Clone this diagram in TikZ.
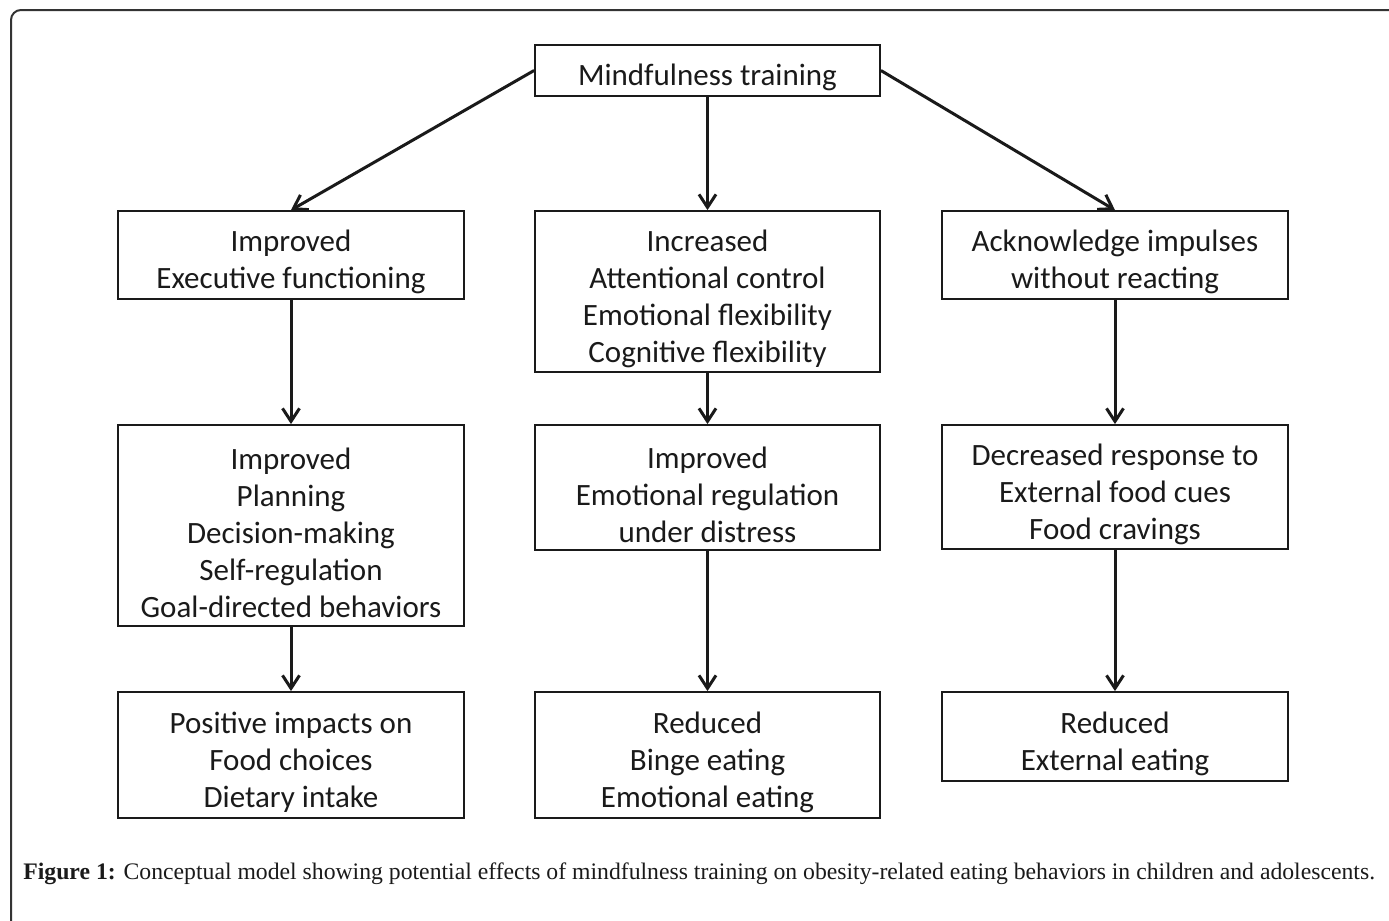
\documentclass[tikz,border=0pt]{standalone}
\usepackage{fontspec}
\setmainfont{Liberation Serif}
\newfontfamily\boxfont{Carlito}
\usetikzlibrary{arrows.meta}
\definecolor{framecol}{HTML}{333333}
\definecolor{inkcol}{HTML}{1A1A1A}
\tikzset{
  fbox/.style={draw=inkcol, line width=0.9pt, inner sep=0pt},
  ftext/.style={align=center, inner sep=0pt,
    font=\boxfont\fontsize{15.5}{18.5}\selectfont, text=inkcol},
  conn/.style={draw=inkcol, line width=1.5pt, -{Straight Barb[length=6.5pt,width=8.5pt,line width=1.5pt]}}
}
\newcommand{\bx}[5]{%
  \node[fbox, minimum width=#3pt, minimum height=#4pt] (#1) at #2 {};
  \node[ftext] (#1-t) at ([yshift=-3.5pt]#1.center) {#5};
}
\begin{document}
\begin{tikzpicture}[x=0.5pt,y=-0.5pt]
\useasboundingbox (0,0) rectangle (1389,921);
% frame
\draw[framecol, line width=1pt, rounded corners=5pt] (11,921) -- (11,10) -- (1389,10);
% nodes
\bx{top}{(707.5,70.5)}{172.5}{25.5}{Mindfulness training}
\bx{L1}{(291,255)}{173}{44}{Improved\\Executive functioning}
\bx{M1}{(707.5,291.5)}{172.5}{80.5}{Increased\\Attentional control\\Emotional flexibility\\Cognitive flexibility}
\bx{R1}{(1115,255)}{173}{44}{Acknowledge impulses\\without reacting}
\bx{L2}{(291,525.5)}{173}{100.5}{Improved\\Planning\\Decision-making\\Self-regulation\\Goal-directed behaviors}
\bx{M2}{(707.5,487.5)}{172.5}{62.5}{Improved\\Emotional regulation\\under distress}
\bx{R2}{(1115,487)}{173}{62}{Decreased response to\\External food cues\\Food cravings}
\bx{L3}{(291,755)}{173}{63}{Positive impacts on\\Food choices\\Dietary intake}
\bx{M3}{(707.5,755)}{172.5}{63}{Reduced\\Binge eating\\Emotional eating}
\bx{R3}{(1115,736.5)}{173}{44.5}{Reduced\\External eating}
% connectors
\draw[conn] (top.west) -- (L1.north);
\draw[conn] (top.south) -- (M1.north);
\draw[conn] (top.east) -- (R1.north);
\draw[conn] (L1.south) -- (L2.north);
\draw[conn] (L2.south) -- (L3.north);
\draw[conn] (M1.south) -- (M2.north);
\draw[conn] (M2.south) -- (M3.north);
\draw[conn] (R1.south) -- (R2.north);
\draw[conn] (R2.south) -- (R3.north);
% caption
\node[anchor=base west, inner sep=0pt, font=\fontsize{11.85}{13}\selectfont, text=inkcol] (cap) at (23,879)
  {\textbf{Figure 1:} Conceptual model showing potential effects of mindfulness training on obesity-related eating behaviors in children and adolescents.};
\end{tikzpicture}
\end{document}
